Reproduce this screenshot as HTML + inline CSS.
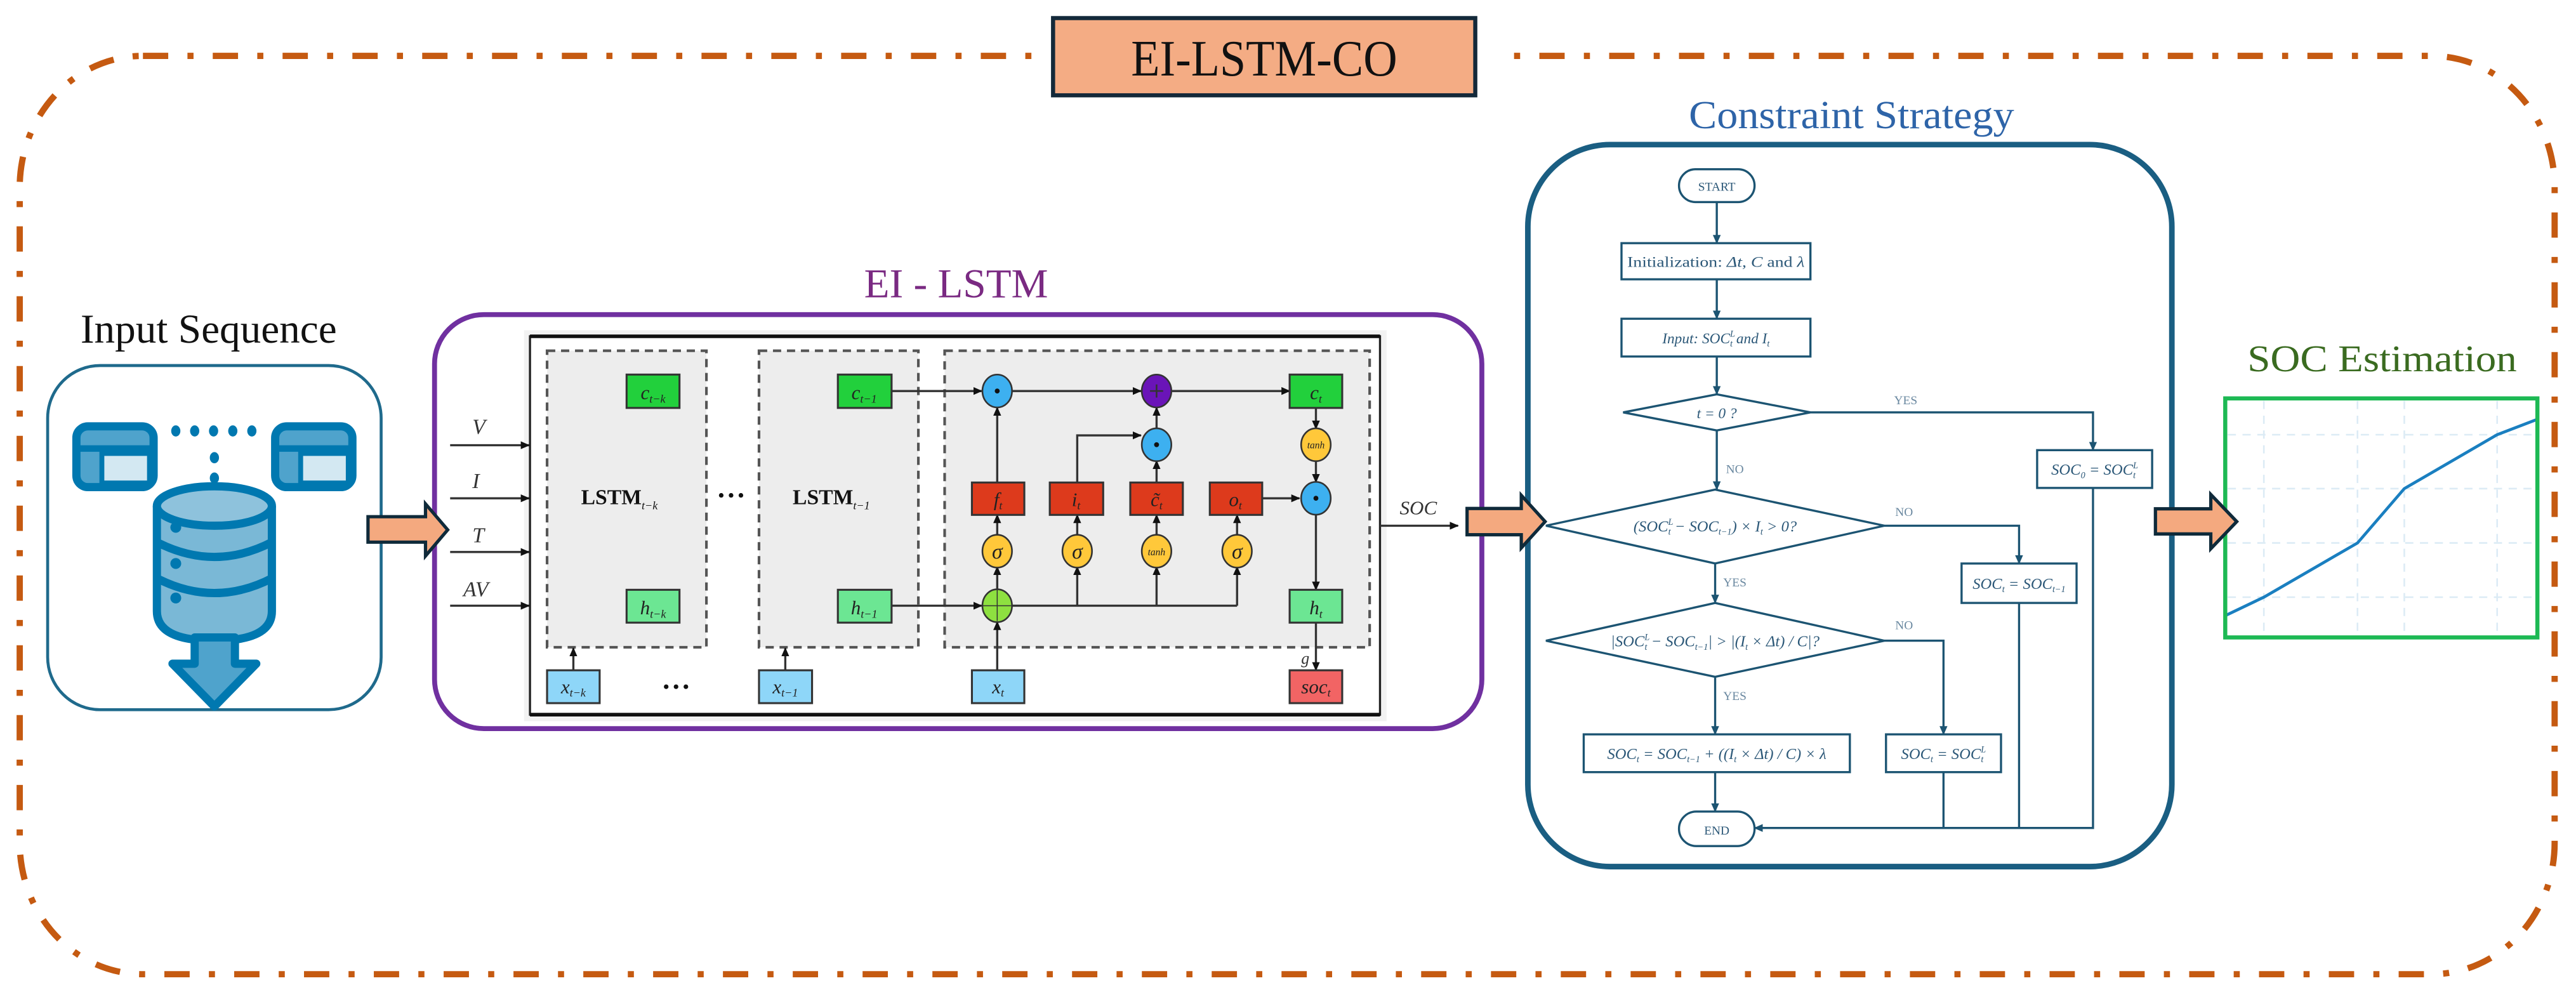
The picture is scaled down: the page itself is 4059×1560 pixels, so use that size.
<!DOCTYPE html>
<html><head><meta charset="utf-8"><style>html,body{margin:0;padding:0;background:#fff}svg{display:block}</style></head>
<body>
<svg xmlns="http://www.w3.org/2000/svg" width="4059" height="1560" viewBox="0 0 1568 602.6" font-family="'Liberation Serif', serif">
<defs>
<marker id="ab" markerWidth="6" markerHeight="6" refX="5" refY="3" orient="auto" markerUnits="userSpaceOnUse"><path d="M0,0.6 L5.5,3 L0,5.4 Z" fill="#111"/></marker>
<marker id="af" markerWidth="6" markerHeight="6" refX="5" refY="3" orient="auto" markerUnits="userSpaceOnUse"><path d="M0,0.6 L5.5,3 L0,5.4 Z" fill="#1C5472"/></marker>
</defs>

<!-- outer dash-dot frame -->
<rect x="12" y="34" width="1543" height="559" rx="75" ry="80" fill="none" stroke="#C55A11" stroke-width="3.8" stroke-dasharray="15.4 11.7 3.7 11.7"/>
<rect x="629" y="20" width="282" height="30" fill="#fff"/>
<rect x="641" y="11" width="257" height="47" fill="#F4AC84" stroke="#13293A" stroke-width="2.5"/>
<text x="769.5" y="46" font-size="31" text-anchor="middle" textLength="162" lengthAdjust="spacingAndGlyphs" fill="#111">EI-LSTM-CO</text>

<!-- Input sequence -->
<text x="127" y="208.6" font-size="25" text-anchor="middle" textLength="156" lengthAdjust="spacingAndGlyphs" fill="#111">Input Sequence</text>
<rect x="29" y="222.5" width="203" height="209.5" rx="32" fill="#fff" stroke="#1F6A8C" stroke-width="1.8"/>
<g stroke="#0078B0" stroke-width="5">
<rect x="46.5" y="259.5" width="47" height="37" rx="7" fill="#4FA3CC"/>
<rect x="62" y="276" width="29" height="18" fill="#D3E8F2" stroke-width="3"/>
<line x1="46" y1="273" x2="94" y2="273" stroke-width="4"/>
<rect x="167.5" y="259.5" width="47" height="37" rx="7" fill="#4FA3CC"/>
<rect x="183" y="276" width="29" height="18" fill="#D3E8F2" stroke-width="3"/>
<line x1="167" y1="273" x2="215" y2="273" stroke-width="4"/>
</g>
<g fill="#0078B0">
<ellipse cx="107" cy="262.3" rx="2.8" ry="3.4"/><ellipse cx="118.5" cy="262.3" rx="2.8" ry="3.4"/><ellipse cx="130" cy="262.3" rx="2.8" ry="3.4"/><ellipse cx="141.7" cy="262.3" rx="2.8" ry="3.4"/><ellipse cx="153.3" cy="262.3" rx="2.8" ry="3.4"/>
<ellipse cx="130.5" cy="278.6" rx="2.8" ry="3.4"/><ellipse cx="130.5" cy="291" rx="2.8" ry="3.4"/>
</g>
<g stroke="#0078B0" stroke-width="5">
<path d="M95.5,308 L95.5,372 Q95.5,390 130.5,390 Q165.5,390 165.5,372 L165.5,308" fill="#7AB8D6"/>
<ellipse cx="130.5" cy="308" rx="35" ry="12" fill="#8EC2DC"/>
<path d="M95.5,330 Q130.5,348 165.5,330 M95.5,352 Q130.5,370 165.5,352" fill="none"/>
<path d="M118.5,388 V404 H105 L130.5,430 L156,404 H143 V388 Z" fill="#4FA3CC" stroke-linejoin="round"/>
</g>
<g fill="#0078B0"><circle cx="107" cy="321" r="3.3"/><circle cx="107" cy="343" r="3.3"/><circle cx="107" cy="364" r="3.3"/></g>

<!-- EI-LSTM -->
<text x="582" y="181" font-size="25" text-anchor="middle" textLength="112" lengthAdjust="spacingAndGlyphs" fill="#7A2A82">EI - LSTM</text>
<rect x="264.5" y="191.5" width="637.5" height="252" rx="30" fill="#fff" stroke="#7030A0" stroke-width="3"/>
<rect x="319" y="201" width="525" height="238" fill="#F2F2F2"/>
<rect x="322.6" y="204.7" width="517.4" height="230.3" fill="#fff" stroke="#222" stroke-width="1.3"/>
<line x1="322.6" y1="204.7" x2="840" y2="204.7" stroke="#111" stroke-width="2.2"/>
<line x1="322.6" y1="435" x2="840" y2="435" stroke="#111" stroke-width="2.2"/>
<g fill="#EDEDED" stroke="#555" stroke-width="1.6" stroke-dasharray="5 3.5">
<rect x="333" y="213.5" width="97" height="180.5"/>
<rect x="462" y="213.5" width="97" height="180.5"/>
<rect x="575" y="213.5" width="258.7" height="180.5"/>
</g>
<g stroke="#333" stroke-width="1.3" marker-end="url(#ab)">
<line x1="274" y1="271" x2="322" y2="271"/><line x1="274" y1="303.3" x2="322" y2="303.3"/>
<line x1="274" y1="336" x2="322" y2="336"/><line x1="274" y1="368.7" x2="322" y2="368.7"/>
<line x1="840" y1="320" x2="887.5" y2="320"/>
</g>
<g font-style="italic" font-size="13" fill="#333">
<text x="287.5" y="264">V</text><text x="287.5" y="297">I</text><text x="287.5" y="330">T</text><text x="282" y="363">AV</text>
<text x="852" y="313" font-size="12">SOC</text>
</g>

<g stroke="#333" stroke-width="1.3" fill="none" marker-end="url(#ab)">
<line x1="542.7" y1="238" x2="597.5" y2="238"/>
<line x1="616" y1="238" x2="694.5" y2="238"/>
<line x1="713.5" y1="238" x2="785" y2="238"/>
<line x1="801" y1="248.3" x2="801" y2="261"/>
<line x1="801" y1="280.5" x2="801" y2="293.5"/>
<line x1="768.3" y1="303.3" x2="791" y2="303.3"/>
<line x1="801" y1="313" x2="801" y2="359"/>
<line x1="801" y1="379" x2="801" y2="408"/>
<line x1="607" y1="293.7" x2="607" y2="248"/>
<path d="M655.7,293.7 V265 H694.5"/>
<line x1="704" y1="293.7" x2="704" y2="280.5"/>
<line x1="704" y1="261" x2="704" y2="248"/>
<line x1="607" y1="326" x2="607" y2="313.4"/><line x1="655.7" y1="326" x2="655.7" y2="313.4"/>
<line x1="704" y1="326" x2="704" y2="313.4"/><line x1="753" y1="326" x2="753" y2="313.4"/>
<line x1="607" y1="359" x2="607" y2="345"/>
<line x1="655.7" y1="368.7" x2="655.7" y2="345"/><line x1="704" y1="368.7" x2="704" y2="345"/><line x1="753" y1="368.7" x2="753" y2="345"/>
<line x1="542.7" y1="368.7" x2="597.5" y2="368.7"/>
<line x1="607" y1="408" x2="607" y2="378.5"/>
<line x1="349" y1="408" x2="349" y2="394.5"/><line x1="478" y1="408" x2="478" y2="394.5"/>
</g>
<line x1="616" y1="368.7" x2="753" y2="368.7" stroke="#333" stroke-width="1.3"/>
<text x="792" y="404" font-size="10" font-style="italic" fill="#333">g</text>

<g stroke="#333" stroke-width="1.2">
<rect x="381.4" y="228" width="32.2" height="20.3" fill="#22D03C"/>
<rect x="510" y="228" width="32.7" height="20.3" fill="#22D03C"/>
<rect x="785" y="228" width="32" height="20.3" fill="#22D03C"/>
<rect x="381.4" y="359" width="32.2" height="20" fill="#6CE693"/>
<rect x="510" y="359" width="32.7" height="20" fill="#6CE693"/>
<rect x="785" y="359" width="32" height="20" fill="#6CE693"/>
<rect x="591.6" y="293.7" width="31.9" height="19.7" fill="#DD3A1C"/>
<rect x="639" y="293.7" width="32.5" height="19.7" fill="#DD3A1C"/>
<rect x="688" y="293.7" width="32" height="19.7" fill="#DD3A1C"/>
<rect x="736.4" y="293.7" width="31.9" height="19.7" fill="#DD3A1C"/>
<rect x="333" y="408" width="32" height="20" fill="#8ED6F8"/>
<rect x="462" y="408" width="32.3" height="20" fill="#8ED6F8"/>
<rect x="591.6" y="408" width="31.9" height="20" fill="#8ED6F8"/>
<rect x="785" y="408" width="32" height="20" fill="#F26464"/>
</g>
<g stroke="#333" stroke-width="1">
<ellipse cx="607" cy="238" rx="9" ry="10" fill="#3DB0F0"/>
<ellipse cx="704" cy="238" rx="9" ry="10" fill="#6A14B8"/>
<ellipse cx="704" cy="270.7" rx="9" ry="10" fill="#3DB0F0"/>
<ellipse cx="801" cy="270.7" rx="9" ry="10" fill="#FFC83A"/>
<ellipse cx="801" cy="303.3" rx="9" ry="10" fill="#3DB0F0"/>
<ellipse cx="607" cy="335.5" rx="9" ry="10" fill="#FFC83A"/>
<ellipse cx="655.7" cy="335.5" rx="9" ry="10" fill="#FFC83A"/>
<ellipse cx="704" cy="335.5" rx="9" ry="10" fill="#FFC83A"/>
<ellipse cx="753" cy="335.5" rx="9" ry="10" fill="#FFC83A"/>
<ellipse cx="607" cy="368.7" rx="9" ry="10" fill="#8EE040"/>
</g>
<g fill="#111"><circle cx="607" cy="238" r="1.5"/><circle cx="704" cy="270.7" r="1.5"/><circle cx="801" cy="303.3" r="1.5"/></g>
<g stroke="#333" stroke-width="1"><line x1="700" y1="238" x2="708" y2="238"/><line x1="704" y1="234" x2="704" y2="242"/><line x1="598" y1="368.7" x2="616" y2="368.7" stroke-width="0.6"/><line x1="607" y1="359" x2="607" y2="378" stroke-width="0.6"/></g>
<g font-style="italic" font-size="12" fill="#222" text-anchor="middle">
<text x="397.5" y="243">c<tspan font-size="7" dy="2">t−k</tspan></text>
<text x="526" y="243">c<tspan font-size="7" dy="2">t−1</tspan></text>
<text x="801" y="243">c<tspan font-size="7" dy="2">t</tspan></text>
<text x="397.5" y="374">h<tspan font-size="7" dy="2">t−k</tspan></text>
<text x="526" y="374">h<tspan font-size="7" dy="2">t−1</tspan></text>
<text x="801" y="374">h<tspan font-size="7" dy="2">t</tspan></text>
<text x="607.5" y="308">f<tspan font-size="7" dy="2">t</tspan></text>
<text x="655" y="308">i<tspan font-size="7" dy="2">t</tspan></text>
<text x="704" y="308">c̃<tspan font-size="7" dy="2">t</tspan></text>
<text x="752" y="308">o<tspan font-size="7" dy="2">t</tspan></text>
<text x="349" y="422">x<tspan font-size="7" dy="2">t−k</tspan></text>
<text x="478" y="422">x<tspan font-size="7" dy="2">t−1</tspan></text>
<text x="607.5" y="422">x<tspan font-size="7" dy="2">t</tspan></text>
<text x="801" y="422">soc<tspan font-size="7" dy="2">t</tspan></text>
<text x="607" y="340" font-size="13">σ</text><text x="655.7" y="340" font-size="13">σ</text><text x="753" y="340" font-size="13">σ</text>
<text x="704" y="338" font-size="6">tanh</text><text x="801" y="273" font-size="6">tanh</text>
</g>
<g font-weight="bold" font-size="13" fill="#111" text-anchor="middle">
<text x="377" y="307">LSTM<tspan font-size="7" font-style="italic" font-weight="normal" dy="3">t−k</tspan></text>
<text x="506" y="307">LSTM<tspan font-size="7" font-style="italic" font-weight="normal" dy="3">t−1</tspan></text>
</g>
<g fill="#111"><circle cx="439" cy="301.5" r="1.4"/><circle cx="445" cy="301.5" r="1.4"/><circle cx="451" cy="301.5" r="1.4"/>
<circle cx="405.5" cy="418" r="1.4"/><circle cx="411.5" cy="418" r="1.4"/><circle cx="417.5" cy="418" r="1.4"/></g>

<!-- Constraint strategy -->
<text x="1127" y="78" font-size="24" text-anchor="middle" textLength="198" lengthAdjust="spacingAndGlyphs" fill="#2E64A8">Constraint Strategy</text>
<rect x="930" y="88" width="392" height="439.5" rx="50" fill="#fff" stroke="#1A5E82" stroke-width="3.4"/>
<g stroke="#1C5472" stroke-width="1.3" fill="#fff">
<rect x="1022" y="103" width="46" height="20" rx="10"/>
<rect x="987" y="148" width="115" height="22"/>
<rect x="987" y="194" width="115" height="23"/>
<polygon points="988,251 1045,240 1102,251 1045,262"/>
<polygon points="941,320 1044,298 1147,320 1044,343"/>
<polygon points="941,390 1044,367 1147,390 1044,412"/>
<rect x="1240" y="274" width="70" height="23"/>
<rect x="1194" y="343" width="70" height="24"/>
<rect x="964" y="447" width="162" height="23"/>
<rect x="1148" y="447" width="70" height="23"/>
<rect x="1022" y="494" width="46" height="21" rx="10.5"/>
</g>
<g stroke="#1C5472" stroke-width="1.3" fill="none" marker-end="url(#af)">
<line x1="1045" y1="123" x2="1045" y2="148"/>
<line x1="1045" y1="170" x2="1045" y2="194"/>
<line x1="1045" y1="217" x2="1045" y2="240"/>
<line x1="1045" y1="262" x2="1045" y2="298"/>
<line x1="1044" y1="343" x2="1044" y2="367"/>
<line x1="1044" y1="412" x2="1044" y2="447"/>
<line x1="1044" y1="470" x2="1044" y2="494"/>
<path d="M1102,251 H1274 V274"/>
<path d="M1147,320 H1229 V343"/>
<path d="M1147,390 H1183 V447"/>
<path d="M1274,297 V504 H1068"/>
</g>
<g stroke="#1C5472" stroke-width="1.3"><line x1="1229" y1="367" x2="1229" y2="504"/><line x1="1183" y1="470" x2="1183" y2="504"/></g>
<g fill="#2C5878" font-size="9" text-anchor="middle">
<text x="1045" y="116" font-size="7.5">START</text>
<text x="1045" y="508" font-size="7.5">END</text>
<text x="1044.5" y="162.5" textLength="108" lengthAdjust="spacingAndGlyphs">Initialization: <tspan font-style="italic">Δt</tspan>, <tspan font-style="italic">C</tspan> and <tspan font-style="italic">λ</tspan></text>
<text x="1044.5" y="209" font-style="italic">Input: SOC<tspan font-size="5.5" dy="-4">L</tspan><tspan font-size="5.5" dx="-3" dy="6">t</tspan><tspan dy="-2"> and I</tspan><tspan font-size="5.5" dy="2">t</tspan></text>
<text x="1045" y="254.5" font-style="italic">t = 0 ?</text>
<text x="1044" y="323.5" font-style="italic" font-size="9.5">(SOC<tspan font-size="5.5" dy="-4">L</tspan><tspan font-size="5.5" dx="-3" dy="6">t</tspan><tspan dy="-2"> − SOC</tspan><tspan font-size="5.5" dy="2">t−1</tspan><tspan dy="-2">) × I</tspan><tspan font-size="5.5" dy="2">t</tspan><tspan dy="-2"> &gt; 0?</tspan></text>
<text x="1044" y="393.5" font-style="italic" font-size="9.5">|SOC<tspan font-size="5.5" dy="-4">L</tspan><tspan font-size="5.5" dx="-3" dy="6">t</tspan><tspan dy="-2"> − SOC</tspan><tspan font-size="5.5" dy="2">t−1</tspan><tspan dy="-2">| &gt; |(I</tspan><tspan font-size="5.5" dy="2">t</tspan><tspan dy="-2"> × Δt) / C|?</tspan></text>
<text x="1275" y="289" font-style="italic" font-size="9.5">SOC<tspan font-size="5.5" dy="2">0</tspan><tspan dy="-2"> = SOC</tspan><tspan font-size="5.5" dy="-4">L</tspan><tspan font-size="5.5" dx="-3" dy="6">t</tspan></text>
<text x="1229" y="358.5" font-style="italic" font-size="9.5">SOC<tspan font-size="5.5" dy="2">t</tspan><tspan dy="-2"> = SOC</tspan><tspan font-size="5.5" dy="2">t−1</tspan></text>
<text x="1045" y="462" font-style="italic" font-size="9.5">SOC<tspan font-size="5.5" dy="2">t</tspan><tspan dy="-2"> = SOC</tspan><tspan font-size="5.5" dy="2">t−1</tspan><tspan dy="-2"> + ((I</tspan><tspan font-size="5.5" dy="2">t</tspan><tspan dy="-2"> × Δt) / C) × λ</tspan></text>
<text x="1183" y="462" font-style="italic" font-size="9.5">SOC<tspan font-size="5.5" dy="2">t</tspan><tspan dy="-2"> = SOC</tspan><tspan font-size="5.5" dy="-4">L</tspan><tspan font-size="5.5" dx="-3" dy="6">t</tspan></text>
</g>
<g fill="#6A88A0" font-size="7.5" text-anchor="middle">
<text x="1160" y="246">YES</text><text x="1056" y="288">NO</text><text x="1159" y="314">NO</text>
<text x="1056" y="357">YES</text><text x="1159" y="383">NO</text><text x="1056" y="426">YES</text>
</g>

<!-- SOC Estimation -->
<text x="1450" y="226" font-size="23" text-anchor="middle" textLength="164" lengthAdjust="spacingAndGlyphs" fill="#3A6B20">SOC Estimation</text>
<rect x="1354.5" y="242.5" width="190" height="145.5" fill="#fff"/>
<g stroke="#DCEBF5" stroke-width="1" stroke-dasharray="5 4">
<line x1="1378" y1="244" x2="1378" y2="387"/><line x1="1435" y1="244" x2="1435" y2="387"/>
<line x1="1463.5" y1="244" x2="1463.5" y2="387"/><line x1="1520" y1="244" x2="1520" y2="387"/>
<line x1="1356" y1="264.6" x2="1544" y2="264.6"/><line x1="1356" y1="297.4" x2="1544" y2="297.4"/>
<line x1="1356" y1="330.5" x2="1544" y2="330.5"/><line x1="1356" y1="363.5" x2="1544" y2="363.5"/>
</g>
<polyline points="1355,374.5 1378,363.5 1435,330.5 1463.5,297.4 1520,264.6 1545,255" fill="none" stroke="#1A7FC0" stroke-width="1.8"/>
<rect x="1354.5" y="242.5" width="190" height="145.5" fill="none" stroke="#1DB954" stroke-width="2.5"/>

<!-- big arrows (on top) -->
<g fill="#F4A97F" stroke="#0F2A3A" stroke-width="2" stroke-linejoin="miter">
<polygon points="224,314.5 259,314.5 259,306.7 272.5,322.5 259,338.4 259,330 224,330"/>
<polygon points="893,309.5 926,309.5 926,301.5 940.5,317.5 926,333.5 926,325.5 893,325.5"/>
<polygon points="1312,309.7 1345.7,309.7 1345.7,301 1361.5,317.5 1345.7,334 1345.7,325 1312,325"/>
</g>
</svg>
</body></html>
